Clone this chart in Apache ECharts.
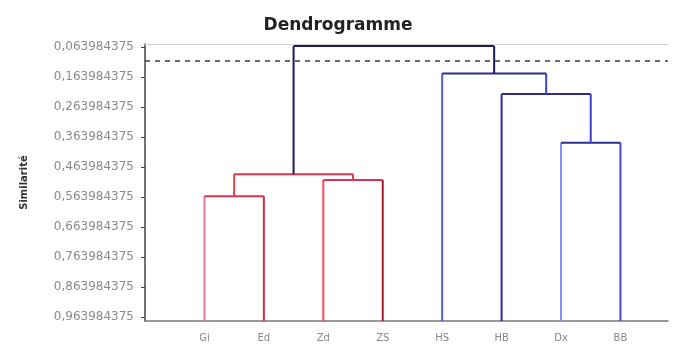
<!DOCTYPE html>
<html>
<head>
<meta charset="utf-8">
<script src="https://cdn.jsdelivr.net/npm/echarts@6/dist/echarts.min.js"></script>
<style>html,body{margin:0;padding:0;background:#fff}#c{width:676px;height:354px}</style>
</head>
<body>
<div id="c"></div>
<script>
// ---- data ----
const leaves = ['Gi', 'Ed', 'Zd', 'ZS', 'HS', 'HB', 'Dx', 'BB'];
// merges (node ids: leaves 0..7, merged clusters 8..14)
const mergeLeft = [0, 2, 8, 6, 5, 4, 10];
const mergeRight = [1, 3, 9, 7, 11, 12, 13];
const mergeHeight = [0.561, 0.507, 0.488, 0.383, 0.221, 0.152, 0.061];
const cutHeight = 0.107;
const tickValues = [0.063984375, 0.163984375, 0.263984375, 0.363984375, 0.463984375,
                    0.563984375, 0.663984375, 0.763984375, 0.863984375, 0.963984375];
const axisMin = 0.054;
const axisMax = 0.977;

// ---- styles ----
const leafColors = ['#e27a8c', '#d42a48', '#ff4658', '#a8182c', '#5656e0', '#2626a6', '#8c8cff', '#4646d0'];
const clusterVColor = ['#e0404e', '#4040d0'];
const clusterHColor = ['#d83650', '#2c2c8c'];
const rootColor = '#1c1c58';

// ---- build tree geometry ----
const nLeaf = leaves.length;
const nodeX = leaves.map((_, i) => i + 1);
const nodeH = leaves.map(() => axisMax);
mergeLeft.forEach((a, k) => {
  const b = mergeRight[k];
  nodeX.push((nodeX[a] + nodeX[b]) / 2);
  nodeH.push(mergeHeight[k]);
});
const nodeCluster = new Array(nodeX.length).fill(-1);
const rootK = mergeLeft.length - 1;
function assign(node, c) {
  nodeCluster[node] = c;
  if (node >= nLeaf) {
    const k = node - nLeaf;
    assign(mergeLeft[k], c);
    assign(mergeRight[k], c);
  }
}
assign(mergeLeft[rootK], 0);
assign(mergeRight[rootK], 1);

const series = [];
function seg(p1, p2, color) {
  series.push({
    type: 'line', data: [p1, p2], symbol: 'none', silent: true, clip: false,
    animation: false, lineStyle: { color: color, width: 2 }
  });
}
mergeLeft.forEach((a, k) => {
  const b = mergeRight[k];
  const h = mergeHeight[k];
  const isRoot = h < cutHeight;
  const c = nodeCluster[nLeaf + k];
  const hColor = isRoot ? rootColor : clusterHColor[c];
  [a, b].forEach(ch => {
    let vColor;
    if (isRoot) vColor = rootColor;
    else if (ch < nLeaf) vColor = leafColors[ch];
    else vColor = clusterVColor[c];
    seg([nodeX[ch], nodeH[ch]], [nodeX[ch], h], vColor);
  });
  seg([nodeX[a], h], [nodeX[b], h], hColor);
});
series.push({
  type: 'line', data: [], silent: true, animation: false,
  markLine: {
    silent: true, symbol: 'none', label: { show: false },
    lineStyle: { color: '#3a3a3a', type: [5, 5], width: 1.5 },
    data: [{ yAxis: cutHeight }]
  }
});

const chart = echarts.init(document.getElementById('c'), null, { renderer: 'canvas' });
chart.setOption({
  backgroundColor: '#ffffff',
  animation: false,
  title: {
    text: 'Dendrogramme', left: 'center', top: 12,
    textStyle: { fontFamily: 'DejaVu Sans', fontSize: 17, fontWeight: 'bold', color: '#222' }
  },
  grid: { left: 145, right: 8, top: 44, bottom: 33, containLabel: false },
  xAxis: [{
    type: 'value', min: 0, max: 8.8, interval: 1,
    axisLine: { lineStyle: { color: '#777', width: 1.5 } },
    axisTick: { show: false },
    splitLine: { show: false },
    axisLabel: {
      formatter: v => (Number.isInteger(v) && v >= 1 && v <= nLeaf) ? leaves[v - 1] : '',
      color: '#888', fontSize: 10, margin: 12, fontFamily: 'DejaVu Sans'
    }
  }, {
    type: 'value', position: 'top', min: 0, max: 8.8,
    axisLine: { show: true, lineStyle: { color: '#cfcfcf' } },
    axisTick: { show: false }, axisLabel: { show: false }, splitLine: { show: false }
  }],
  yAxis: {
    type: 'value', inverse: true, min: axisMin, max: axisMax,
    name: 'Similarité', nameLocation: 'middle', nameGap: 116, nameRotate: 90,
    nameTextStyle: { fontFamily: 'DejaVu Sans', fontSize: 10, fontWeight: 'bold', color: '#333' },
    axisLine: { show: true, lineStyle: { color: '#444', width: 1.5 } },
    axisTick: { show: true, length: 4, customValues: tickValues, lineStyle: { color: '#444' } },
    splitLine: { show: false },
    axisLabel: {
      customValues: tickValues,
      formatter: v => v.toFixed(9).replace('.', ','),
      color: '#8a8a8a', fontSize: 12, margin: 11, fontFamily: 'DejaVu Sans'
    }
  },
  series: series
});
</script>
</body>
</html>
